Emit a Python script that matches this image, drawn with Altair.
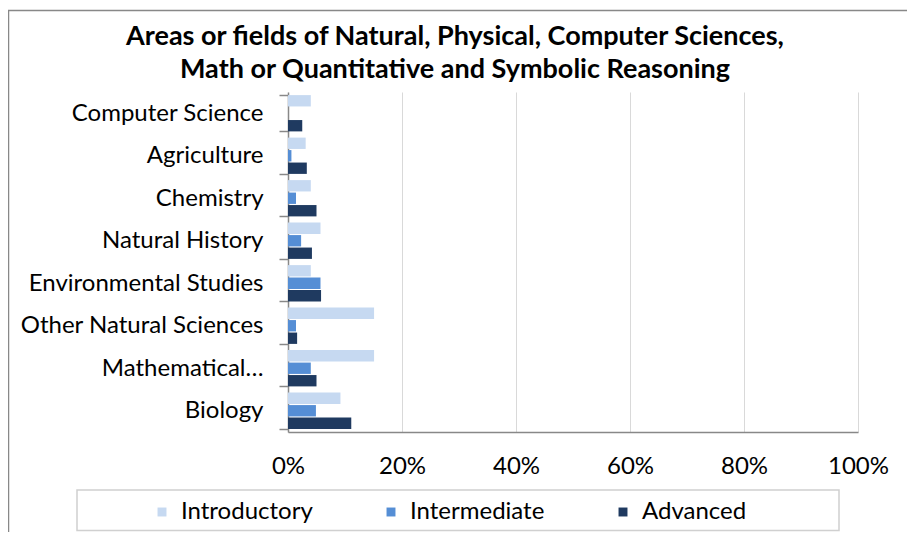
import altair as alt
import pandas as pd

categories = ["Computer Science", "Agriculture", "Chemistry", "Natural History",
              "Environmental Studies", "Other Natural Sciences", "Mathematical…", "Biology"]
levels = ["Introductory", "Intermediate", "Advanced"]
introductory = [4.0, 3.1, 4.0, 5.7, 4.0, 15.1, 15.1, 9.2]
intermediate = [0.0, 0.6, 1.4, 2.3, 5.7, 1.4, 4.0, 4.9]
advanced = [2.5, 3.3, 5.0, 4.2, 5.8, 1.6, 5.0, 11.1]
colors = ["#C6D9F1", "#558ED5", "#1F3A60"]
x_ticks = [0, 0.2, 0.4, 0.6, 0.8, 1.0]
title_lines = ["Areas or fields of Natural, Physical, Computer Sciences,",
               "Math or Quantitative and Symbolic Reasoning"]

rows = []
for lvl, vals in zip(levels, [introductory, intermediate, advanced]):
    for c, v in zip(categories, vals):
        rows.append({"category": c, "level": lvl, "value": v / 100})
df = pd.DataFrame(rows)

FONT = "Lato"
FS = 24

bars = alt.Chart(df).mark_bar(stroke=None).encode(
    y=alt.Y("category:N", sort=categories,
            scale=alt.Scale(paddingInner=0.146, paddingOuter=0.073),
            axis=alt.Axis(title=None, labelFontSize=FS, labelColor="black", labelFont=FONT,
                          labelPadding=16, tickBand="extent", tickSize=9, tickColor="#888888",
                          tickWidth=1.5, domainColor="#888888", domainWidth=1.5, labelLimit=300)),
    yOffset=alt.YOffset("level:N", sort=levels, scale=alt.Scale(paddingInner=0.09)),
    x=alt.X("value:Q", scale=alt.Scale(domain=[0, 1]),
            axis=alt.Axis(title=None, format="%", values=x_ticks, grid=True, gridColor="#d9d9d9",
                          gridWidth=1, ticks=False, tickSize=0, labelFontSize=FS, labelFont=FONT,
                          labelColor="black", labelPadding=22, labelFlush=False,
                          domainColor="#888888", domainWidth=1.5)),
    color=alt.Color("level:N", sort=levels, scale=alt.Scale(domain=levels, range=colors),
                    legend=alt.Legend(title=None, orient="none", legendX=-138, legendY=408,
                                      direction="horizontal", symbolType="square", symbolSize=80,
                                      symbolStrokeWidth=0, labelFontSize=FS, labelFont=FONT,
                                      labelColor="black", columnPadding=66, labelOffset=7)),
)

one = pd.DataFrame({"a": [0]})
legend_frame = alt.Chart(one).mark_rect(fill=None, stroke="#d0d0d0", strokeWidth=1.5).encode(
    x=alt.value(-211), x2=alt.value(551), y=alt.value(398), y2=alt.value(438.5))
frame_top = alt.Chart(one).mark_rule(color="#888888", strokeWidth=1.5).encode(
    x=alt.value(-280), x2=alt.value(700), y=alt.value(-81.5))
frame_left = alt.Chart(one).mark_rule(color="#888888", strokeWidth=1.5).encode(
    x=alt.value(-279.5), y=alt.value(-82), y2=alt.value(500))

chart = alt.layer(frame_top, frame_left, legend_frame, bars).properties(
    width=570, height=340,
    title=alt.TitleParams(title_lines, fontSize=27, font=FONT, fontWeight="bold", color="black",
                          anchor="middle", frame="group", dx=-118, offset=-75, lineHeight=33),
    autosize=alt.AutoSizeParams(type="none"),
    padding={"left": 280, "top": 84, "right": 49, "bottom": 100},
).configure_view(stroke=None)

chart.save("out.html", embed_options={"renderer": "svg", "actions": False})
